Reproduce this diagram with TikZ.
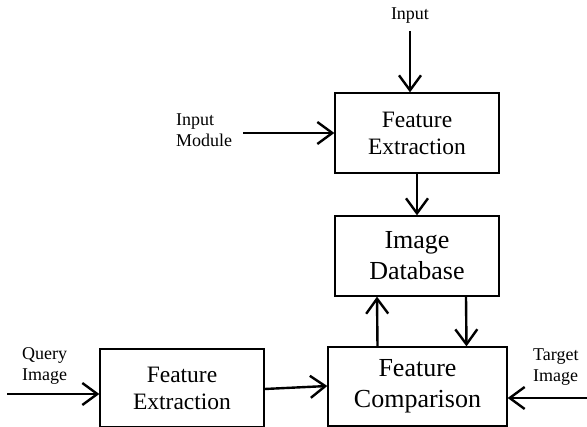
\documentclass[tikz,border=0pt]{standalone}
\usepackage{fontspec}
\setmainfont{Liberation Serif}
\usetikzlibrary{arrows.meta}
\begin{document}
\begin{tikzpicture}[x=1pt,y=-1pt,
  box/.style={draw=black,line width=1.3pt,inner sep=0pt,align=center},
  boxA/.style={box,font=\fontsize{23.5}{27}\selectfont},
  boxB/.style={box,font=\fontsize{26}{31}\selectfont},
  lbl/.style={inner sep=0pt,align=left,font=\fontsize{18}{21}\selectfont},
  arr/.style={line width=2.4pt,-{Straight Barb[length=15pt,width=22pt,line width=2.4pt]}}]
\useasboundingbox (0,0) rectangle (587,427);
\node[boxA,minimum width=164pt,minimum height=80pt] (fe1) at (417,133) {Feature\\Extraction};
\node[boxB,minimum width=164pt,minimum height=80pt] (db) at (417,256) {Image\\Database};
\node[boxB,minimum width=179pt,minimum height=79pt] (fc) at (417.5,386.5) {Feature\\Comparison};
\node[boxA,minimum width=164pt,minimum height=78pt] (fe2) at (182,388) {Feature\\Extraction};
\node[lbl] (lin) at (410,16) {Input};
\node[lbl,anchor=west] (lim) at (176,130) {Input\\Module};
\node[lbl,anchor=west] (lq) at (22,366) {Query\\Image};
\node[lbl,anchor=west] (lt) at (533,367) {Target\\Image};
\coordinate (cin) at (410,31);
\coordinate (cim) at (243,133);
\coordinate (cq) at (7,394);
\coordinate (ct) at (590,398);
\draw[arr] (cin) -- (fe1.north -| cin);
\draw[arr] (cim) -- (fe1.west |- cim);
\draw[arr] (fe1.south) -- (db.north);
\draw[arr] ([xshift=-40pt]fc.north) -- ([xshift=-40pt]db.south);
\draw[arr] ([xshift=49pt]db.south) -- ([xshift=49pt]fc.north);
\draw[arr] (cq) -- (fe2.west |- cq);
\draw[arr] ([yshift=-1pt]fe2.east) -- ([yshift=0.5pt]fc.west);
\draw[arr] (ct) -- (fc.east |- ct);
\end{tikzpicture}
\end{document}
